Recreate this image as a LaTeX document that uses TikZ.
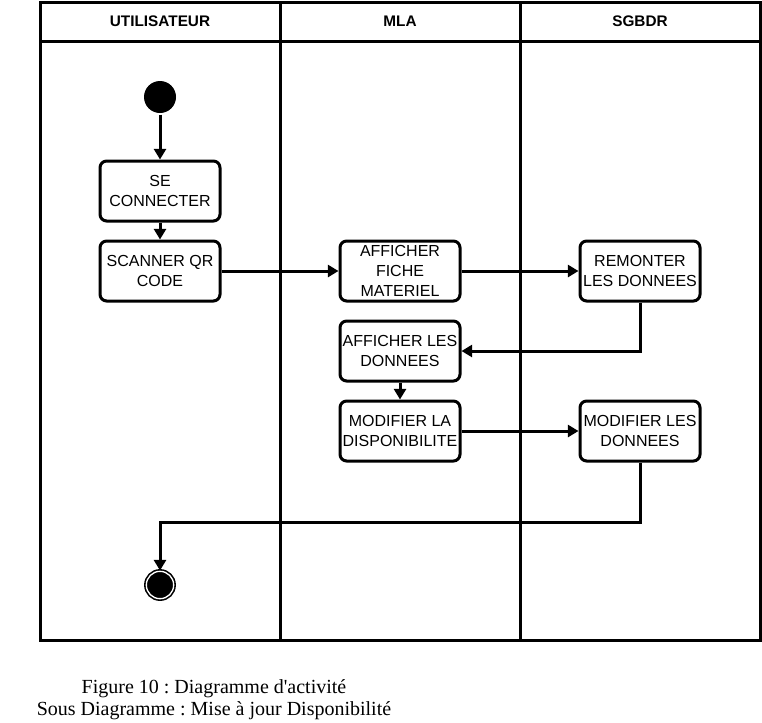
\documentclass[tikz,border=0pt]{standalone}
\usepackage{fontspec}
\setmainfont{Liberation Serif}
\setsansfont{Liberation Sans}
\usetikzlibrary{arrows.meta,calc}
\frenchspacing
\tikzset{%
  >={Triangle[width=9pt,length=8pt]},
  % Specifications for style of nodes:
         lane/.style = {font=\sffamily\bfseries\fontsize{11.5}{13}\selectfont},
       action/.style = {rectangle, rounded corners=5pt, draw=black,
                        line width=2.25pt, minimum width=90pt, minimum height=45pt,
                        inner sep=0.5pt, text centered, align=center,
                        font=\sffamily\fontsize{12}{15}\selectfont},
      initial/.style = {circle, fill=black, minimum size=24pt, inner sep=0pt},
        final/.style = {circle, fill=black, draw=black, double=white,
                        double distance=1pt, line width=1.2pt,
                        minimum size=20.5pt, inner sep=0pt},
}

\begin{document}
\begin{tikzpicture}[x=0.75pt, y=-0.75pt, node distance=60pt, line width=2.25pt]
  \useasboundingbox (0,0) rectangle (762,722);
  % Swimlanes
  \draw (40,2) rectangle (760,640);
  \draw (40,41) -- (760,41);
  \draw (280,2) -- (280,640);
  \draw (520,2) -- (520,640);
  \node (user) [lane] at (160,21) {UTILISATEUR};
  \node (mla)  [lane] at (400,21) {MLA};
  \node (sgbd) [lane] at (640,21) {SGBDR};
  % Specification of nodes (position, etc.)
  \node (start)    [initial] at (160,97) {};
  \node (connect)  [action, below of=start, yshift=-10.5pt] {SE\\CONNECTER};
  \node (scan)     [action, below of=connect]   {SCANNER QR\\CODE};
  \node (fiche)    [action, right of=scan, xshift=120pt]    {AFFICHER\\FICHE\\MATERIEL};
  \node (remonter) [action, right of=fiche, xshift=120pt]   {REMONTER\\LES DONNEES};
  \node (affdon)   [action, below of=fiche]     {AFFICHER LES\\DONNEES};
  \node (moddispo) [action, below of=affdon]    {MODIFIER LA\\DISPONIBILITE};
  \node (modbd)    [action, right of=moddispo, xshift=120pt] {MODIFIER LES\\DONNEES};
  \node (stop)     [final] at (160,585) {};
  % Caption
  \node (caption) [align=center, font=\fontsize{15}{16.5}\selectfont] at (214,700)
        {Figure 10 : Diagramme d\textquotesingle activit\'e\\Sous Diagramme : Mise \`a jour Disponibilit\'e};
  % Specification of lines between nodes specified above
\draw[->]   (start) -- (connect);
\draw[->]   (connect) -- (scan);
\draw[->]   (scan) -- (fiche);
\draw[->]   (fiche) -- (remonter);
\draw[->]   (remonter) |- (affdon);
\draw[->]   (affdon) -- (moddispo);
\draw[->]   (moddispo) -- (modbd);
\draw[->]   (modbd.south) -- ++(0,60) -| (stop);
\end{tikzpicture}
\end{document}
